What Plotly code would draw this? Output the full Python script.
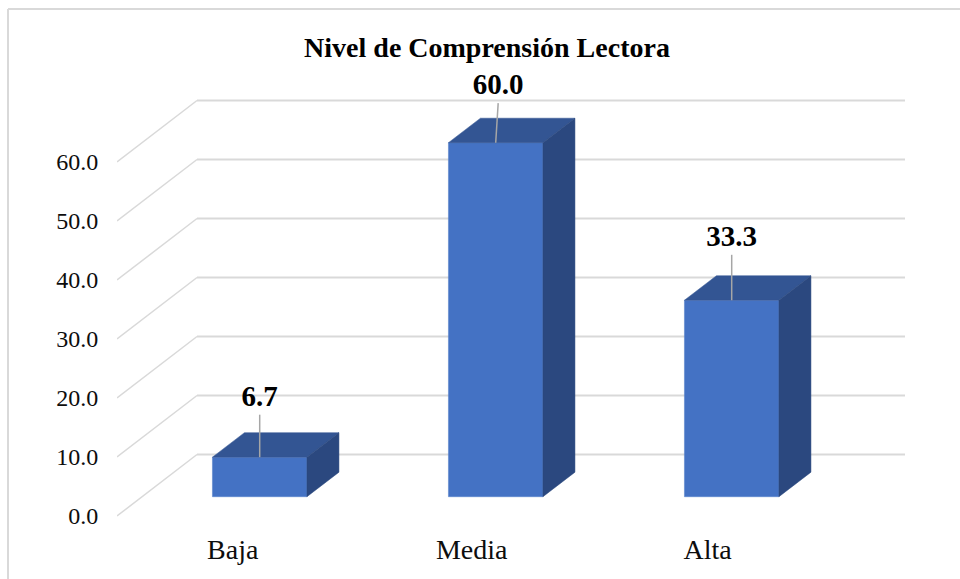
import plotly.graph_objects as go

# Data
categories = ["Baja", "Media", "Alta"]
values = [6.7, 60.0, 33.3]
value_labels = ["6.7", "60.0", "33.3"]
axis_ticks = [0, 10, 20, 30, 40, 50, 60]
axis_tick_labels = ["0.0", "10.0", "20.0", "30.0", "40.0", "50.0", "60.0"]
title_text = "Nivel de Comprensión Lectora"

# Oblique projection settings (axis units)
W, H = 960, 579
M_L, M_R, M_T, M_B = 117, 55, 20, 57
PLOT_W = W - M_L - M_R
PLOT_H = H - M_T - M_B
PX_X = 236.0   # pixels per category
PX_Y = 5.9     # pixels per value unit
x0_px = 259.7 - M_L
y0_px = (H - M_B) - 516
X_RANGE = [-x0_px / PX_X, (PLOT_W - x0_px) / PX_X]
Y_RANGE = [-y0_px / PX_Y, (PLOT_H - y0_px) / PX_Y]

BAR_W = 94.5 / PX_X
BASE = 19.3 / PX_Y
BAR_DX, BAR_DY = 32 / PX_X, 24.5 / PX_Y
WALL_DX, WALL_DY = 80 / PX_X, 61.5 / PX_Y
WALL_END = X_RANGE[1]
LABEL_GAP = [9.9, 9.55, 10.35]
LEADER_TOP = [7.2, 6.7, 7.7]
LEADER_LEAN = [0, 2.5 / PX_X, 0]
TICK_SHIFT = [-27 / PX_X, -24 / PX_X, -24 / PX_X]

positions = list(range(len(categories)))
GRID = "#D9D9D9"
FRONT, TOP, SIDE = "#4472C4", "#335593", "#2B487F"
FONT = "Liberation Serif"

fig = go.Figure()

# Bar fronts
fig.add_trace(go.Bar(
    x=positions, y=values, base=BASE, width=BAR_W,
    marker=dict(color=FRONT, line=dict(color="#5B84CC", width=0.6)),
    showlegend=False, hoverinfo="skip",
))

# Top and side faces
for p, v in zip(positions, values):
    l, r = p - BAR_W / 2, p + BAR_W / 2
    t, b = BASE + v, BASE
    fig.add_trace(go.Scatter(
        x=[l, r, r + BAR_DX, l + BAR_DX, l], y=[t, t, t + BAR_DY, t + BAR_DY, t],
        mode="lines", fill="toself", fillcolor=TOP, line=dict(color=TOP, width=0.5),
        showlegend=False, hoverinfo="skip",
    ))
    fig.add_trace(go.Scatter(
        x=[r, r + BAR_DX, r + BAR_DX, r, r], y=[t, t + BAR_DY, b + BAR_DY, b, t],
        mode="lines", fill="toself", fillcolor=SIDE, line=dict(color=SIDE, width=0.5),
        showlegend=False, hoverinfo="skip",
    ))

# Leader lines
for p, v, top, lean in zip(positions, values, LEADER_TOP, LEADER_LEAN):
    fig.add_trace(go.Scatter(
        x=[p, p + lean], y=[BASE + v, BASE + v + top], mode="lines",
        line=dict(color="#A6A6A6", width=1.5),
        showlegend=False, hoverinfo="skip",
    ))

# Value labels
fig.add_trace(go.Scatter(
    x=[p + l for p, l in zip(positions, LEADER_LEAN)],
    y=[BASE + v + g for v, g in zip(values, LABEL_GAP)],
    mode="text", text=value_labels, textposition="middle center",
    textfont=dict(family=FONT, size=29, color="#000000", weight="bold"),
    showlegend=False, hoverinfo="skip",
))

# Gridlines below the bars: oblique floor-to-wall part plus back wall part
shapes = []
for tv in axis_ticks:
    shapes.append(dict(type="line", xref="x", yref="y", layer="below",
                       x0=X_RANGE[0], y0=tv, x1=X_RANGE[0] + WALL_DX, y1=tv + WALL_DY,
                       line=dict(color=GRID, width=1.5)))
    shapes.append(dict(type="line", xref="x", yref="y", layer="below",
                       x0=X_RANGE[0] + WALL_DX, y0=tv + WALL_DY, x1=WALL_END, y1=tv + WALL_DY,
                       line=dict(color=GRID, width=2)))

# Chart frame: left and top edges only
fx = (8 - M_L) / PLOT_W
fy = 1 + (M_T - 9) / PLOT_H
shapes.append(dict(type="line", xref="paper", yref="paper", x0=fx, y0=-M_B / PLOT_H - 0.01, x1=fx, y1=fy,
                   line=dict(color=GRID, width=2)))
shapes.append(dict(type="line", xref="paper", yref="paper", x0=fx, y0=fy, x1=1 + (M_R + 5) / PLOT_W, y1=fy,
                   line=dict(color=GRID, width=2)))

fig.update_layout(
    width=W, height=H, autosize=False,
    margin=dict(l=M_L, r=M_R, t=M_T, b=M_B, autoexpand=False),
    paper_bgcolor="#FFFFFF", plot_bgcolor="rgba(0,0,0,0)",
    showlegend=False, shapes=shapes,
    title=dict(text=title_text, x=487 / W, xanchor="center", y=1 - 47 / H, yanchor="middle",
               font=dict(family=FONT, size=28, color="#000000", weight="bold")),
    xaxis=dict(range=X_RANGE, tickmode="array",
               tickvals=[p + s for p, s in zip(positions, TICK_SHIFT)], ticktext=categories,
               showgrid=False, zeroline=False, showline=False,
               ticks="outside", ticklen=2, tickcolor="rgba(0,0,0,0)",
               tickfont=dict(family=FONT, size=28, color="#0D0D0D")),
    yaxis=dict(range=Y_RANGE, tickmode="array", tickvals=axis_ticks, ticktext=axis_tick_labels,
               showgrid=False, zeroline=False, showline=False,
               ticks="outside", ticklen=13, tickcolor="rgba(0,0,0,0)",
               tickfont=dict(family=FONT, size=24, color="#0D0D0D")),
)

fig.write_html(
    "out.html",
    config={"displayModeBar": False},
    post_script="document.body.style.margin='0';document.body.style.overflow='hidden';",
)
